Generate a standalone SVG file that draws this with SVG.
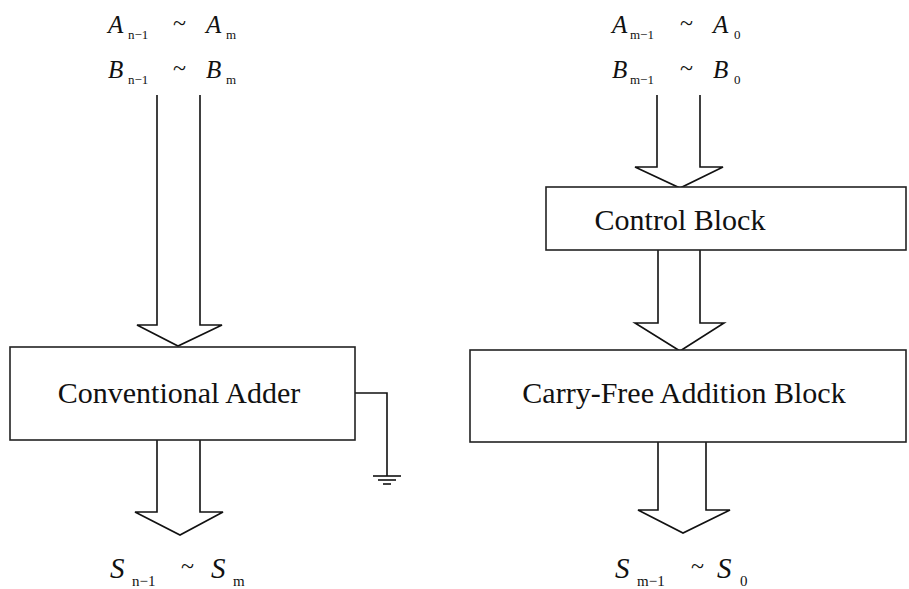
<svg xmlns="http://www.w3.org/2000/svg" width="909" height="589" viewBox="0 0 909 589">
<style>
.box{fill:#fff;stroke:#222;stroke-width:1.6}
.arr{fill:#fff;stroke:#111;stroke-width:1.6;stroke-linejoin:miter}
.wire{fill:none;stroke:#111;stroke-width:1.6}
.lbl{font-family:"Liberation Serif","Times New Roman",serif;font-size:30px;fill:#111}
.m{font-family:"Liberation Serif","Times New Roman",serif;font-style:italic;font-size:25px;fill:#111}
.ms{font-family:"Liberation Serif","Times New Roman",serif;font-size:13px;fill:#111}
.mt{font-family:"Liberation Serif","Times New Roman",serif;font-size:24px;fill:#111}
.S{font-family:"Liberation Serif","Times New Roman",serif;font-style:italic;font-size:29px;fill:#111}
.Ss{font-family:"Liberation Serif","Times New Roman",serif;font-size:15px;fill:#111}
</style>
<rect width="909" height="589" fill="#fff"/>
<g id="connectors">
<path class="arr" d="M157 95 V325 H137 L178 346 L222 325 H200 V95"/>
<path class="arr" d="M157 440 V512 H135 L180 535 L223 512 H200 V440"/>
<path class="arr" d="M657 95 V167 H635 L680 188 L723 167 H700 V95"/>
<path class="arr" d="M658 250 V323 H635 L680 351 L724 323 H700 V250"/>
<path class="arr" d="M658 442 V510 H638 L683 533 L730 510 H706 V442"/>
<path class="wire" d="M355 393 H387 V476"/>
<line class="wire" x1="373" y1="476" x2="401" y2="476"/>
<line class="wire" x1="378" y1="480" x2="396" y2="480"/>
<line class="wire" x1="383" y1="484" x2="391" y2="484"/>
</g>
<g id="conventional-adder">
<rect class="box" x="10" y="347" width="345" height="93"/>
<text class="lbl" x="179" y="403" text-anchor="middle">Conventional Adder</text>
</g>
<g id="control-block">
<rect class="box" x="546" y="187" width="360" height="63"/>
<text class="lbl" x="680" y="230" text-anchor="middle">Control Block</text>
</g>
<g id="carry-free-block">
<rect class="box" x="470" y="350" width="436" height="92"/>
<text class="lbl" x="684" y="403" text-anchor="middle">Carry-Free Addition Block</text>
</g>
<g id="left-inputs">
<text class="m" x="108" y="33">A</text><text class="ms" x="128" y="39">n−1</text><text class="mt" x="173" y="31">~</text><text class="m" x="206" y="33">A</text><text class="ms" x="226" y="39">m</text>
<text class="m" x="108" y="78">B</text><text class="ms" x="128" y="84">n−1</text><text class="mt" x="173" y="76">~</text><text class="m" x="206" y="78">B</text><text class="ms" x="226" y="84">m</text>
</g>
<g id="right-inputs">
<text class="m" x="612" y="33">A</text><text class="ms" x="630" y="39">m−1</text><text class="mt" x="680" y="31">~</text><text class="m" x="713" y="33">A</text><text class="ms" x="734" y="39">0</text>
<text class="m" x="612" y="78">B</text><text class="ms" x="630" y="84">m−1</text><text class="mt" x="680" y="76">~</text><text class="m" x="713" y="78">B</text><text class="ms" x="734" y="84">0</text>
</g>
<g id="left-output">
<text class="S" x="110" y="578">S</text><text class="Ss" x="132" y="586">n−1</text><text class="mt" x="181" y="574">~</text><text class="S" x="211" y="578">S</text><text class="Ss" x="233" y="586">m</text>
</g>
<g id="right-output">
<text class="S" x="615" y="578">S</text><text class="Ss" x="637" y="586">m−1</text><text class="mt" x="691" y="574">~</text><text class="S" x="717" y="578">S</text><text class="Ss" x="740" y="586">0</text>
</g>
</svg>
